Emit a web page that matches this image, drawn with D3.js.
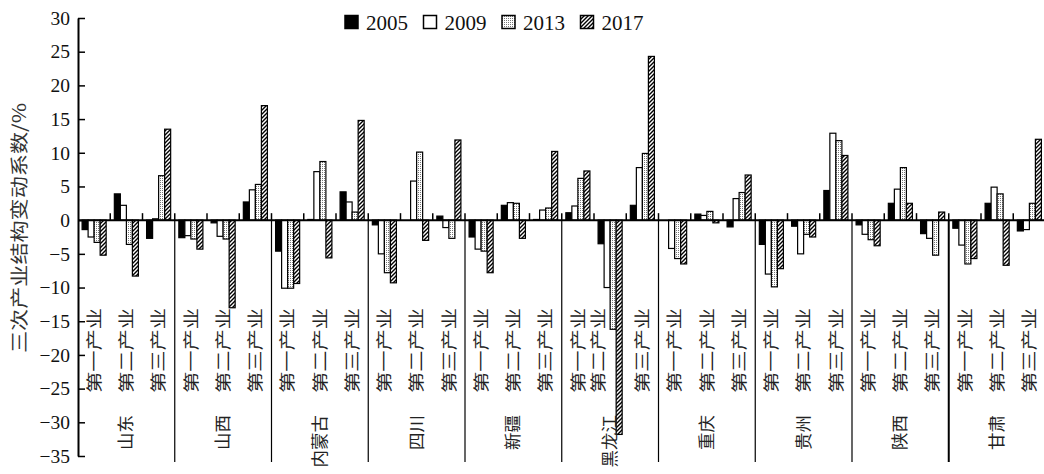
<!DOCTYPE html>
<html>
<head>
<meta charset="utf-8">
<script src="https://d3js.org/d3.v7.min.js"></script>
<style>
  body { margin: 0; background: #fff; }
  svg { display: block; }
</style>
</head>
<body>
<svg id="chart" width="1044" height="474"></svg>
<script>
const provinces = ["山东", "山西", "内蒙古", "四川", "新疆", "黑龙江", "重庆", "贵州", "陕西", "甘肃"]
const industries = ["第一产业", "第二产业", "第三产业"]
const years = ["2005", "2009", "2013", "2017"]
const yTicks = [-35, -30, -25, -20, -15, -10, -5, 0, 5, 10, 15, 20, 25, 30]

// province by province, industry 1..3 inside each
const v2005 = [-1.4, 3.9, -2.7, -2.6, -0.4, 2.7, -4.6, 0.1, 4.2, -0.7, 0, 0.6, -2.5, 2.2, 0.1,
    1.1, -3.5, 2.2, 0, 0.9, -1.0, -3.6, -0.9, 4.4, -0.7, 2.5, -2.0, -1.2, 2.5, -1.6]
const v2009 = [-2.5, 2.2, 0.2, -2.3, -2.4, 4.5, -10.1, 7.2, 2.7, -5.0, 5.8, -1.1, -4.3, 2.6, 1.5,
    2.1, -10.0, 7.8, -4.2, 0.7, 3.2, -8.0, -5.0, 12.9, -2.1, 4.6, -2.7, -3.7, 4.9, -1.4]
const v2013 = [-3.3, -3.6, 6.6, -2.8, -2.8, 5.3, -10.1, 8.7, 1.2, -7.8, 10.1, -2.7, -4.6, 2.5, 1.8,
    6.2, -16.2, 9.9, -5.7, 1.3, 4.1, -9.9, -2.1, 11.8, -2.9, 7.8, -5.2, -6.5, 3.9, 2.5]
const v2017 = [-5.2, -8.3, 13.5, -4.3, -13.0, 17.0, -9.4, -5.6, 14.8, -9.3, -3.0, 11.9, -7.8, -2.7, 10.2,
    7.3, -31.8, 24.3, -6.5, -0.4, 6.7, -7.2, -2.5, 9.6, -3.8, 2.5, 1.2, -5.7, -6.7, 12.0]
const series = [v2005, v2009, v2013, v2017]

const svg = d3.select("#chart")
const plotLeft = 78, plotRight = 1045.5, plotTop = 18, plotBottom = 456
const serif = "'Liberation Serif', 'DejaVu Serif', serif"
const cjk = "'Noto Sans CJK SC', sans-serif"

const cats = []
provinces.forEach(p => industries.forEach(ind => cats.push(p + "|" + ind)))

const x0 = d3.scaleBand().domain(cats).range([plotLeft, plotRight])
const x1 = d3.scaleBand().domain(years).range([0, x0.bandwidth()]).paddingOuter(0.68)
const y = d3.scaleLinear().domain([-35, 30]).range([plotBottom, plotTop])

// fills
const defs = svg.append("defs")
const dots = defs.append("pattern").attr("id", "dots")
    .attr("patternUnits", "userSpaceOnUse").attr("width", 2).attr("height", 2)
dots.append("rect").attr("width", 2).attr("height", 2).attr("fill", "#fff")
dots.append("rect").attr("width", 1).attr("height", 1).attr("fill", "#777")
const hatch = defs.append("pattern").attr("id", "hatch")
    .attr("patternUnits", "userSpaceOnUse").attr("width", 4).attr("height", 4)
hatch.append("rect").attr("width", 4).attr("height", 4).attr("fill", "#fff")
hatch.append("path").attr("d", "M-1,1 l2,-2 M0,4 l4,-4 M3,5 l2,-2")
    .attr("stroke", "#000").attr("stroke-width", 1.4)
const fills = ["#000", "#fff", "url(#dots)", "url(#hatch)"]

// bars
years.forEach((yr, k) => {
    svg.append("g").selectAll("rect")
        .data(series[k].map((v, i) => ({ cat: cats[i], v })).filter(d => d.v !== 0))
        .enter()
        .append("rect")
        .attr("x", d => x0(d.cat) + x1(yr))
        .attr("width", x1.bandwidth())
        .attr("y", d => y(Math.max(0, d.v)))
        .attr("height", d => Math.abs(y(d.v) - y(0)))
        .attr("fill", fills[k])
        .attr("stroke", "#000")
        .attr("stroke-width", 1.2)
})

// y axis
const yAxis = svg.append("g")
    .attr("transform", `translate(${plotLeft},0)`)
    .call(d3.axisLeft(y).tickValues(yTicks).tickSizeInner(-7).tickSizeOuter(0).tickPadding(8))
yAxis.select(".domain").attr("stroke-width", 2)
yAxis.selectAll(".tick line").attr("stroke-width", 1.5)
yAxis.selectAll(".tick text")
    .attr("font-family", serif).attr("font-size", 19.5).attr("fill", "#111")

// zero line, category ticks and province separators
svg.append("line")
    .attr("x1", plotLeft).attr("x2", 1044).attr("y1", y(0)).attr("y2", y(0))
    .attr("stroke", "#000").attr("stroke-width", 2)
cats.forEach((c, i) => {
    const bx = x0(c) + x0.bandwidth()
    svg.append("line")
        .attr("x1", bx).attr("x2", bx).attr("y1", y(0) - 7).attr("y2", y(0))
        .attr("stroke", "#000").attr("stroke-width", 1.5)
    if ((i + 1) % 3 === 0 && i < cats.length - 1) {
        svg.append("line")
            .attr("x1", bx).attr("x2", bx).attr("y1", y(0)).attr("y2", 462)
            .attr("stroke", "#000").attr("stroke-width", i === 26 ? 2 : 1.2)
    }
})

// category labels
svg.append("g").selectAll("text")
    .data(cats)
    .enter().append("text")
    .attr("transform", d => {
        // the 黑龙江 second label sits a little left in the original
        const shift = d === "黑龙江|第二产业" ? -12 : 0
        return `translate(${x0(d) + x0.bandwidth() / 2 + shift},308) rotate(-90)`
    })
    .attr("text-anchor", "end")
    .attr("dy", "0.36em")
    .attr("font-family", cjk).attr("font-size", 16).attr("fill", "#222")
    .attr("textLength", 85).attr("lengthAdjust", "spacingAndGlyphs")
    .text(d => d.split("|")[1])

// province labels
svg.append("g").selectAll("text")
    .data(provinces)
    .enter().append("text")
    .attr("transform", (p, i) => {
        const cx = x0(cats[i * 3]) + x0.bandwidth() * 1.5
        return `translate(${cx},415) rotate(-90)`
    })
    .attr("text-anchor", "end")
    .attr("dy", "0.36em")
    .attr("font-family", cjk).attr("font-size", 16.5).attr("fill", "#222")
    .attr("textLength", p => p.length * 17.5).attr("lengthAdjust", "spacingAndGlyphs")
    .text(p => p)

// y title
svg.append("text")
    .attr("transform", "translate(20,228) rotate(-90)")
    .attr("text-anchor", "middle")
    .attr("dy", "0.36em")
    .attr("font-family", cjk).attr("font-size", 18).attr("fill", "#333")
    .attr("textLength", 250).attr("lengthAdjust", "spacingAndGlyphs")
    .text("三次产业结构变动系数/%")

// legend
const legend = svg.append("g")
years.forEach((yr, k) => {
    const lx = 345 + k * 78.5
    legend.append("rect")
        .attr("x", lx).attr("y", 15.5).attr("width", 13).attr("height", 13)
        .attr("fill", fills[k]).attr("stroke", "#000").attr("stroke-width", 1.5)
    legend.append("text")
        .attr("x", lx + 21).attr("y", 30)
        .attr("font-family", serif).attr("font-size", 21).attr("fill", "#111")
        .text(yr)
})
</script>
</body>
</html>
